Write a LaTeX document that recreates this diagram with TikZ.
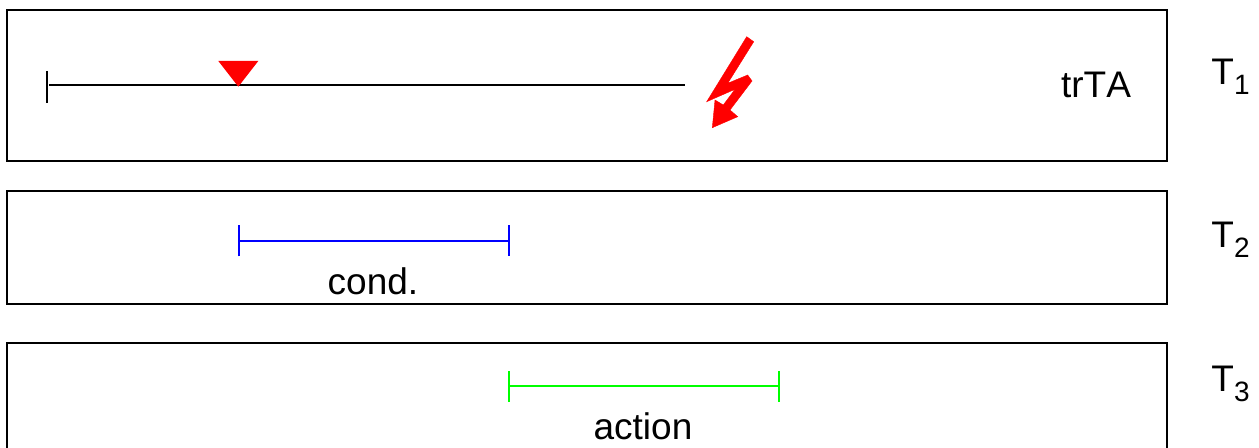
\documentclass[tikz,border=0pt]{standalone}
\usepackage{fontspec}
\setmainfont[Kerning=Off]{Liberation Sans}
\usetikzlibrary{arrows.meta}

\tikzset{
  panel/.style={draw=black, line width=1pt},
  span/.style={line width=1pt, {Bar[width=15.5pt]}-{Bar[width=15.5pt]}},
  label/.style={anchor=base, inner sep=0pt, font=\fontsize{18.5}{22}\selectfont},
  redmark/.style={fill=red, draw=none}
}
\newcommand\subT[1]{T\raisebox{-4.9pt}{\fontsize{14}{16}\selectfont #1}}

\begin{document}
\begin{tikzpicture}

\newcommand\X{0.5pt}
\newcommand\Y{-0.5pt}

\useasboundingbox (0*\X, 0*\Y) rectangle (1259*\X, 448*\Y);

%% panels
\draw[panel] (7*\X, 10*\Y) rectangle (1167*\X, 161*\Y);
\draw[panel] (7*\X, 191*\Y) rectangle (1167*\X, 304*\Y);
\draw[panel] (7*\X, 448*\Y) -- (7*\X, 343*\Y) -- (1167*\X, 343*\Y) -- (1167*\X, 448*\Y);

%% time lines
\coordinate (txTickTop) at (47*\X, 71*\Y);
\coordinate (txTickEnd) at (47*\X, 103*\Y);
\coordinate (txStart) at (49*\X, 85*\Y);
\coordinate (txEnd) at (685*\X, 85*\Y);
\coordinate (condStart) at (238*\X, 241*\Y);
\coordinate (condEnd) at (510*\X, 241*\Y);
\coordinate (actionStart) at (508*\X, 386.5*\Y);
\coordinate (actionEnd) at (780*\X, 386.5*\Y);

\draw[line width=1pt] (txTickTop) -- (txTickEnd);
\draw[line width=1pt] (txStart) -- (txEnd);
\draw[span, blue] (condStart) -- (condEnd);
\draw[span, green] (actionStart) -- (actionEnd);

%% marker
\fill[redmark] (218.3*\X, 61*\Y) -- (258.3*\X, 61*\Y) -- (238.3*\X, 86.7*\Y) -- cycle;

%% lightning
\filldraw[redmark, draw=red, line width=0.2pt] (746.7*\X, 36.7*\Y) -- (706.7*\X, 101.7*\Y) -- (735*\X, 89.3*\Y)
  -- (723.3*\X, 105*\Y) -- (715*\X, 100*\Y) -- (712.3*\X, 127.7*\Y)
  -- (737.7*\X, 116.7*\Y) -- (730*\X, 110*\Y) -- (752*\X, 81*\Y)
  -- (747.7*\X, 75*\Y) -- (727.7*\X, 83.3*\Y) -- (753.7*\X, 41.7*\Y) -- cycle;

%% labels
\node[label] (trta) at (1096*\X, 98*\Y) {trTA};
\node[label] (cond) at (373*\X, 294.5*\Y) {cond.};
\node[label] (action) at (643*\X, 440*\Y) {action};

\node[label, anchor=base west] (tOne) at (1211*\X, 84.5*\Y) {\subT{1}};
\node[label, anchor=base west] (tTwo) at (1211*\X, 247.5*\Y) {\subT{2}};
\node[label, anchor=base west] (tThree) at (1211*\X, 392*\Y) {\subT{3}};

\end{tikzpicture}
\end{document}
